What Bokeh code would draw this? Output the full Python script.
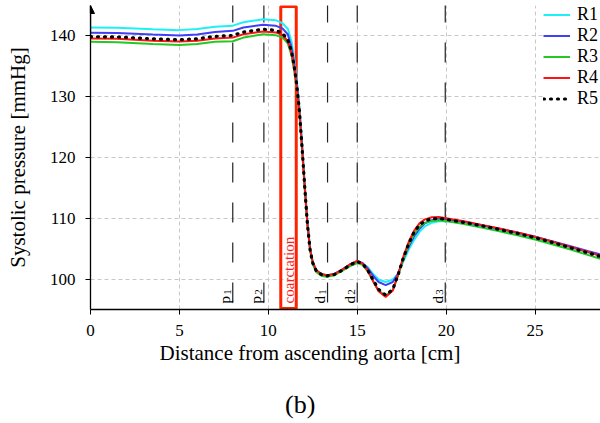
import numpy as np
from math import pi
from bokeh.plotting import figure
from bokeh.layouts import column
from bokeh.models import Range1d, Legend, LegendItem, Title, Arrow, NormalHead, FixedTicker, Div
from bokeh.core.properties import value
from bokeh.embed import file_html
from bokeh.resources import INLINE

FONT = "Liberation Serif"

# ---------------- data ----------------
x_cm = [0, 1.5, 3.5, 5, 6, 7, 8, 8.6, 9.7, 10.4,
        10.8, 11.1, 11.3, 11.45, 11.6, 11.75, 11.9, 12.05, 12.2, 12.35,
        12.5, 12.7, 13.0, 13.3, 13.7, 14.2, 14.6, 15.0, 15.3, 15.6,
        15.9, 16.2, 16.6,
        17.0, 17.3, 17.6, 17.9, 18.2, 18.5, 18.8, 19.2, 19.6, 20.0,
        21, 22, 23, 24, 25, 26, 27, 28, 28.7]

R1 = [141.25, 141.2, 140.95, 140.82, 141.0, 141.38, 141.55, 142.1, 142.6, 142.45,
      141.95, 141.0, 139.0, 136.3, 132.8, 128.3, 122.2, 115.6, 109.5, 105.2,
      102.9, 101.5, 100.9, 100.7, 100.9, 101.6, 102.3, 102.85, 102.6, 102.0,
      100.9, 100.0, 99.6,
      100.0, 100.9, 103.0, 104.9, 106.5, 107.8, 108.7, 109.3, 109.55, 109.6,
      109.2, 108.65, 108.05, 107.45, 106.75, 106.0, 105.2, 104.4, 103.85]

R2 = [140.4, 140.35, 140.1, 139.95, 140.1, 140.5, 140.7, 141.25, 141.7, 141.55,
      141.1, 140.1, 138.0, 135.5, 132.2, 127.8, 121.8, 115.3, 109.3, 105.0,
      102.8, 101.4, 100.8, 100.6, 100.9, 101.7, 102.5, 103.0, 102.7, 101.8,
      100.6, 99.6, 99.1,
      99.6, 101.0, 103.4, 105.4, 107.1, 108.3, 109.2, 109.7, 109.9, 109.9,
      109.45, 108.9, 108.3, 107.7, 107.0, 106.25, 105.45, 104.65, 104.1]

R3 = [138.9, 138.85, 138.55, 138.4, 138.55, 138.9, 139.0, 139.6, 140.15, 140.0,
      139.6, 138.6, 136.7, 134.3, 131.2, 127.1, 121.2, 114.8, 108.9, 104.7,
      102.5, 101.2, 100.6, 100.45, 100.7, 101.5, 102.2, 102.7, 102.4, 101.3,
      99.7, 98.2, 97.35,
      98.3, 100.7, 103.4, 105.7, 107.5, 108.6, 109.3, 109.6, 109.7, 109.6,
      109.1, 108.5, 107.9, 107.25, 106.55, 105.75, 104.9, 104.0, 103.35]

R4 = [139.45, 139.4, 139.1, 138.95, 139.1, 139.45, 139.6, 140.15, 140.6, 140.45,
      140.0, 139.0, 137.1, 134.7, 131.5, 127.3, 121.3, 114.9, 109.0, 104.9,
      102.8, 101.5, 100.9, 100.7, 100.9, 101.7, 102.5, 103.05, 102.6, 101.4,
      99.7, 98.1, 97.15,
      98.2, 100.8, 103.8, 106.2, 108.0, 109.2, 109.85, 110.2, 110.25, 110.05,
      109.55, 108.95, 108.35, 107.7, 107.0, 106.2, 105.35, 104.5, 103.9]

R5 = [139.75, 139.7, 139.4, 139.25, 139.4, 139.8, 139.95, 140.5, 140.95, 140.8,
      140.3, 139.2, 137.4, 135.0, 131.8, 127.5, 121.5, 115.0, 109.0, 104.8,
      102.7, 101.4, 100.8, 100.6, 100.8, 101.6, 102.4, 102.95, 102.6, 101.5,
      99.9, 98.4, 97.45,
      98.4, 100.8, 103.6, 105.9, 107.8, 108.9, 109.6, 109.95, 110.0, 109.85,
      109.35, 108.8, 108.2, 107.55, 106.85, 106.05, 105.2, 104.35, 103.75]

series_names = ["R1", "R2", "R3", "R4", "R5"]

marker_x = [8.0, 9.75, 13.33, 15.0, 19.95]
marker_letters = ["p", "p", "d", "d", "d"]
marker_subs = ["1", "2", "1", "2", "3"]

coarct_left, coarct_right = 10.7, 11.57
coarct_label = "coarctation"

x_ticks = [0, 5, 10, 15, 20, 25]
y_ticks = [100, 110, 120, 130, 140]

x_title = "Distance from ascending aorta [cm]"
y_title = "Systolic pressure [mmHg]"
caption = "(b)"

# ---------------- figure ----------------
Y0, Y1 = 95.1, 144.85
p = figure(width=600, height=390, output_backend="svg", toolbar_location=None, title=None,
           x_range=Range1d(0, 28.68), y_range=Range1d(Y0, Y1),
           min_border_left=90, min_border_right=0, min_border_top=5, min_border_bottom=81)
p.outline_line_color = None
p.background_fill_color = "white"
p.border_fill_color = "white"

for g in (p.xgrid, p.ygrid):
    g.grid_line_color = "#c8c8c8"
    g.grid_line_dash = "4 3"
    g.grid_line_width = 1
p.xgrid.ticker = FixedTicker(ticks=x_ticks)
p.ygrid.ticker = FixedTicker(ticks=y_ticks)

for ax in (p.xaxis[0], p.yaxis[0]):
    ax.axis_line_color = "black"
    ax.axis_line_width = 1.3
    ax.major_tick_line_color = "black"
    ax.major_tick_out = 5
    ax.major_tick_in = 0
    ax.minor_tick_line_color = None
    ax.major_label_text_font = FONT
    ax.major_label_text_font_size = "17px"
    ax.major_label_text_color = "black"
    ax.axis_label_text_font = FONT
    ax.axis_label_text_font_size = "21px"
    ax.axis_label_text_font_style = "normal"
    ax.axis_label_text_color = "black"

p.xaxis.ticker = FixedTicker(ticks=x_ticks)
p.yaxis.ticker = FixedTicker(ticks=y_ticks)
p.yaxis.axis_label = y_title
p.xaxis.major_label_standoff = 10
p.yaxis.major_label_standoff = 10
p.yaxis.axis_label_standoff = 17

# x-axis title (shifted left like the reference)
p.add_layout(Title(text=x_title, align="left", offset=69, standoff=0,
                   text_font=FONT, text_font_size="21px", text_font_style="normal",
                   text_color="black"), "below")

# marker lines
n = len(marker_x)
p.segment(x0=marker_x, y0=[Y1 + 0.5] * n, x1=marker_x, y1=[Y0] * n,
          line_color="#222222", line_width=1.2, line_dash="20 20")
lab_y = 96.1
p.text(x=list(np.array(marker_x) - 0.42), y=[lab_y] * n, text=marker_letters,
       angle=pi / 2, text_align="left", text_baseline="alphabetic",
       text_font=value(FONT), text_font_size="15px", text_color="black")
p.text(x=list(np.array(marker_x) - 0.3), y=[lab_y + 1.4] * n, text=marker_subs,
       angle=pi / 2, text_align="left", text_baseline="alphabetic",
       text_font=value(FONT), text_font_size="11px", text_color="black")

# coarctation box
p.quad(left=[coarct_left], right=[coarct_right], bottom=[95.25], top=[144.7],
       fill_color=None, line_color="#ff2200", line_width=3)
p.text(x=[(coarct_left + coarct_right) / 2], y=[lab_y], text=[coarct_label], angle=pi / 2,
       text_align="left", text_baseline="middle", text_font=value(FONT),
       text_font_size="15px", text_color="#ff1a1a")

# series
styles = [
    dict(line_color="#1ff0f8", line_width=2),
    dict(line_color="#3f3ff5", line_width=2),
    dict(line_color="#22c922", line_width=2),
    dict(line_color="#ff1414", line_width=2),
    dict(line_color="black", line_width=3.2, line_dash="1 6", line_cap="round"),
]
renderers = []
for ys, st in zip([R1, R2, R3, R4, R5], styles):
    renderers.append(p.line(x_cm, ys, **st))

# y-axis arrow head
p.add_layout(Arrow(end=NormalHead(size=8, fill_color="black", line_color="black"),
                   x_start=0, y_start=140, x_end=0, y_end=Y1,
                   line_color="black", line_width=1.3))

legend = Legend(items=[LegendItem(label=nm, renderers=[r]) for nm, r in zip(series_names, renderers)],
                location=(453, 200), orientation="vertical",
                label_text_font=FONT, label_text_font_size="18px", label_text_color="black",
                glyph_width=27, glyph_height=21, label_height=21, label_standoff=7,
                spacing=0, padding=0, margin=0,
                border_line_color=None, background_fill_color="white", background_fill_alpha=1.0)
p.add_layout(legend)

cap = Div(text=caption, width=600, height=33, margin=0,
          styles={"font-family": FONT, "font-size": "26px", "line-height": "30px",
                  "color": "black", "padding-left": "285px", "box-sizing": "border-box"})

layout = column(p, cap, spacing=0)
open("out.html", "w").write(file_html(layout, INLINE))
